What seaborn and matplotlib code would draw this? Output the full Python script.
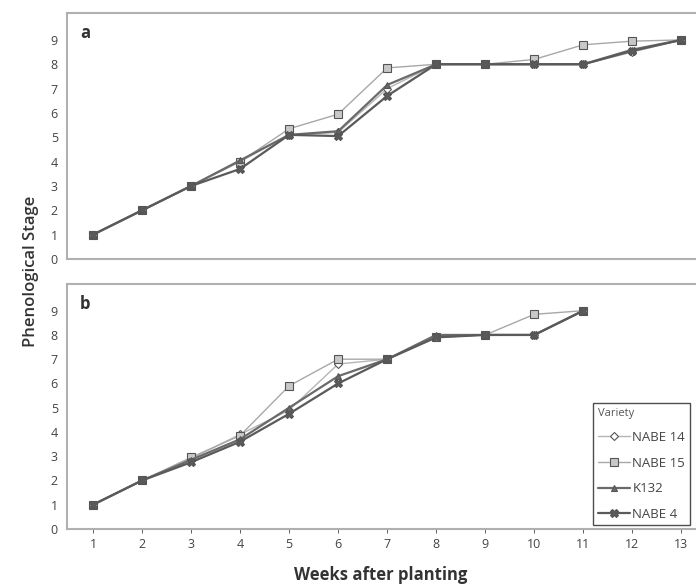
import seaborn as sns
import matplotlib.pyplot as plt
import pandas as pd

# datos
semanas_a = list(range(1, 14))
semanas_b = list(range(1, 12))
variedades = ["NABE 14", "NABE 15", "K132", "NABE 4"]

nabe14_a = [1, 2, 3, 4.0, 5.1, 5.2, 7.0, 8, 8, 8, 8, 8.5, 9]
nabe15_a = [1, 2, 3, 4.0, 5.35, 5.95, 7.85, 8, 8, 8.2, 8.8, 8.95, 9]
k132_a = [1, 2, 3, 4.05, 5.1, 5.25, 7.15, 8, 8, 8, 8, 8.6, 9]
nabe4_a = [1, 2, 3, 3.7, 5.1, 5.05, 6.7, 8, 8, 8, 8, 8.55, 9]

nabe14_b = [1, 2, 2.9, 3.9, 4.9, 6.8, 7, 7.9, 8, 8, 9]
nabe15_b = [1, 2, 2.95, 3.85, 5.9, 7.0, 7, 7.9, 8, 8.85, 9]
k132_b = [1, 2, 2.85, 3.7, 5.0, 6.3, 7, 8.0, 8, 8, 9]
nabe4_b = [1, 2, 2.75, 3.6, 4.75, 6.0, 7, 7.9, 8, 8, 9]

colores = {"NABE 14": "#b5b5b5", "NABE 15": "#a8a8a8", "K132": "#6a6a6a", "NABE 4": "#5a5a5a"}
marcadores = {"NABE 14": "D", "NABE 15": "s", "K132": "^", "NABE 4": "X"}
relleno = {"NABE 14": "white", "NABE 15": "#c8c8c8", "K132": "#6a6a6a", "NABE 4": "#5a5a5a"}
tamanos = {"NABE 14": 4, "NABE 15": 6, "K132": 5, "NABE 4": 6}
grosor = {"NABE 14": 1.0, "NABE 15": 1.0, "K132": 1.6, "NABE 4": 1.6}


def tabla(semanas, series):
    filas = []
    for var, vals in zip(variedades, series):
        for s, v in zip(semanas, vals):
            filas.append({"Semana": s, "Etapa": v, "Variedad": var})
    return pd.DataFrame(filas)


df_a = tabla(semanas_a, [nabe14_a, nabe15_a, k132_a, nabe4_a])
df_b = tabla(semanas_b, [nabe14_b, nabe15_b, k132_b, nabe4_b])

sns.set_theme(style="white")
plt.rcParams['font.family'] = ['Open Sans', 'DejaVu Sans']

fig = plt.figure(figsize=(6.96, 5.84), dpi=100)
ax_a = fig.add_axes([0.0963, 0.5565, 0.92, 0.421])
ax_b = fig.add_axes([0.0963, 0.0942, 0.92, 0.4195])

for ax, df, letra in [(ax_a, df_a, "a"), (ax_b, df_b, "b")]:
    for var in variedades:
        sub = df[df["Variedad"] == var]
        sns.lineplot(data=sub, x="Semana", y="Etapa", ax=ax, color=colores[var],
                     marker=marcadores[var], markersize=tamanos[var],
                     markerfacecolor=relleno[var], markeredgecolor="#555555",
                     markeredgewidth=0.8, lw=grosor[var], label=var, legend=False)
    ax.set_xlim(0.47, 13.53)
    ax.set_ylim(0, 10.1)
    ax.set_yticks(range(0, 10))
    ax.set_xticks(range(1, 14))
    ax.set_xlabel("")
    ax.set_ylabel("")
    ax.tick_params(axis="both", colors="#444444", labelsize=9, length=3, width=0.6,
                   direction="out", left=False, bottom=True)
    for sp in ax.spines.values():
        sp.set_color("#b0b0b0")
        sp.set_linewidth(1.5)
    ax.text(0.02, 0.955, letra, transform=ax.transAxes, fontsize=12, fontweight="bold",
            color="#333333", va="top", ha="left")

ax_a.tick_params(axis="x", labelbottom=False, length=0)
ax_b.tick_params(axis="x", colors="#444444")

handles, labels = ax_b.get_legend_handles_labels()
leg = ax_b.legend(handles, labels, title="Variety", loc="lower left",
                  bbox_to_anchor=(0.822, 0.015), fontsize=9.5, title_fontsize=8,
                  frameon=True, fancybox=False, edgecolor="#222222",
                  handlelength=2.4, handletextpad=0.2, labelspacing=0.95,
                  borderpad=0.35, borderaxespad=0.0, alignment="left")
leg.get_frame().set_linewidth(1.0)
for t in leg.get_texts():
    t.set_color("#444444")
leg.get_title().set_color("#555555")

fig.text(0.045, 0.535, "Phenological Stage", rotation=90, ha="center", va="center",
         fontsize=12, fontweight="semibold", color="#333333")
fig.text(0.547, 0.016, "Weeks after planting", ha="center", va="center",
         fontsize=12, fontweight="bold", color="#333333")

plt.savefig("out.png", dpi=100)
plt.close()
